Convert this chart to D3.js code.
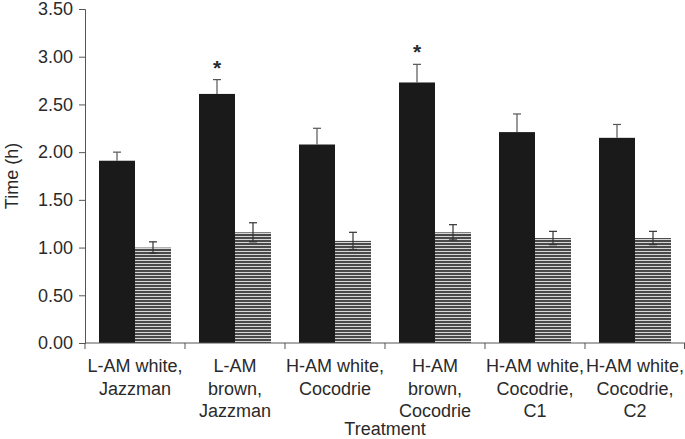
<!DOCTYPE html>
<html>
<head>
<meta charset="utf-8">
<script src="https://cdn.jsdelivr.net/npm/d3@7"></script>
<style>
  body { margin: 0; background: #fff; }
  text { font-family: "Liberation Sans", Arial, sans-serif; fill: #2a2a2a; }
</style>
</head>
<body>
<script>
// data
let categories = [
    ['L-AM white,', 'Jazzman'],
    ['L-AM', 'brown,', 'Jazzman'],
    ['H-AM white,', 'Cocodrie'],
    ['H-AM', 'brown,', 'Cocodrie'],
    ['H-AM white,', 'Cocodrie,', 'C1'],
    ['H-AM white,', 'Cocodrie,', 'C2']
];
let blackValues = [1.91, 2.61, 2.08, 2.73, 2.21, 2.15];
let blackErrors = [0.09, 0.15, 0.17, 0.19, 0.19, 0.14];
let stripeValues = [1.00, 1.16, 1.07, 1.16, 1.10, 1.10];
let stripeErrors = [0.06, 0.10, 0.09, 0.08, 0.07, 0.07];
let significant = [false, true, false, true, false, false];
let yTicks = [0, 0.5, 1, 1.5, 2, 2.5, 3, 3.5];

let width = 685, height = 439;
let margin = {top: 9, right: 0, bottom: 96, left: 85};

let svg = d3.select('body').append('svg')
    .attr('width', width)
    .attr('height', height);

let defs = svg.append('defs');
let pat = defs.append('pattern')
    .attr('id', 'stripes')
    .attr('patternUnits', 'userSpaceOnUse')
    .attr('width', 8)
    .attr('height', 3);
pat.append('rect').attr('width', 8).attr('height', 3).attr('fill', '#d6d6d6');
pat.append('rect').attr('width', 8).attr('height', 2).attr('fill', '#4a4a4a');

let x = d3.scaleBand()
    .domain(d3.range(categories.length))
    .range([margin.left, width - margin.right])
    .paddingInner(0).paddingOuter(0);

let sub = d3.scaleBand()
    .domain(['black', 'stripe'])
    .range([14, x.bandwidth() - 14]);

let y = d3.scaleLinear()
    .domain([0, 3.5])
    .range([height - margin.bottom, margin.top]);

// bars
let groups = svg.append('g').selectAll('g')
    .data(categories)
    .join('g')
    .attr('transform', (d, i) => `translate(${x(i)},0)`);

groups.append('rect')
    .attr('x', sub('black'))
    .attr('width', sub.bandwidth())
    .attr('y', (d, i) => y(blackValues[i]))
    .attr('height', (d, i) => y(0) - y(blackValues[i]))
    .attr('fill', '#1a1a1a');

groups.append('rect')
    .attr('x', sub('stripe'))
    .attr('width', sub.bandwidth())
    .attr('y', (d, i) => y(stripeValues[i]))
    .attr('height', (d, i) => y(0) - y(stripeValues[i]))
    .attr('fill', 'url(#stripes)');

// error bars (lower half of the black ones disappears in the bar)
function errorBar(key, vals, errs, color, lower) {
    let cx = sub(key) + sub.bandwidth() / 2;
    let eb = groups.append('g').attr('stroke', color).attr('stroke-width', 1.2);
    eb.append('line')
        .attr('x1', cx).attr('x2', cx)
        .attr('y1', (d, i) => lower ? y(vals[i] - errs[i]) : y(vals[i]))
        .attr('y2', (d, i) => y(vals[i] + errs[i]));
    eb.append('line')
        .attr('x1', cx - 4).attr('x2', cx + 4)
        .attr('y1', (d, i) => y(vals[i] + errs[i]))
        .attr('y2', (d, i) => y(vals[i] + errs[i]));
    if (lower) {
        eb.append('line')
            .attr('x1', cx - 4).attr('x2', cx + 4)
            .attr('y1', (d, i) => y(vals[i] - errs[i]))
            .attr('y2', (d, i) => y(vals[i] - errs[i]));
    }
}
errorBar('black', blackValues, blackErrors, '#555', false);
errorBar('stripe', stripeValues, stripeErrors, '#333', true);

// significance stars
groups.filter((d, i) => significant[i])
    .append('text')
    .attr('x', sub('black') + sub.bandwidth() / 2)
    .attr('y', d => {
        let idx = categories.indexOf(d);
        return y(blackValues[idx] + blackErrors[idx]) - 5;
    })
    .attr('text-anchor', 'middle')
    .style('font-size', '21px')
    .style('font-weight', 'bold')
    .text('*');

// y axis
let yAxis = svg.append('g')
    .attr('transform', `translate(${margin.left},0)`)
    .call(d3.axisLeft(y).tickValues(yTicks).tickFormat(d3.format('.2f')).tickSize(6).tickPadding(6));
yAxis.select('.domain').attr('stroke', '#555');
yAxis.selectAll('.tick line').attr('stroke', '#555');
yAxis.selectAll('.tick text').style('font-size', '18px').attr('fill', '#2a2a2a');

// x axis
let xAxis = svg.append('g')
    .attr('transform', `translate(0,${y(0)})`);
xAxis.append('line')
    .attr('x1', margin.left).attr('x2', width - margin.right)
    .attr('stroke', '#555');
xAxis.selectAll('.xt')
    .data(d3.range(categories.length + 1))
    .join('line')
    .attr('class', 'xt')
    .attr('x1', i => i < categories.length ? x(i) : x(i - 1) + x.bandwidth() - 0.5)
    .attr('x2', i => i < categories.length ? x(i) : x(i - 1) + x.bandwidth() - 0.5)
    .attr('y1', 0).attr('y2', 6)
    .attr('stroke', '#555');

let labels = xAxis.selectAll('.xl')
    .data(categories)
    .join('text')
    .attr('class', 'xl')
    .attr('x', (d, i) => x(i) + x.bandwidth() / 2)
    .attr('text-anchor', 'middle')
    .style('font-size', '18px');
labels.selectAll('tspan')
    .data(d => d)
    .join('tspan')
    .attr('x', function() { return this.parentNode.getAttribute('x'); })
    .attr('y', (d, j) => 29 + j * 22.5)
    .text(d => d);

// axis titles
svg.append('text')
    .attr('transform', `translate(18,${(y(0) + y(3.5)) / 2}) rotate(-90)`)
    .attr('text-anchor', 'middle')
    .style('font-size', '18px')
    .text('Time (h)');

svg.append('text')
    .attr('x', 385)
    .attr('y', 435)
    .attr('text-anchor', 'middle')
    .style('font-size', '18px')
    .text('Treatment');
</script>
</body>
</html>
